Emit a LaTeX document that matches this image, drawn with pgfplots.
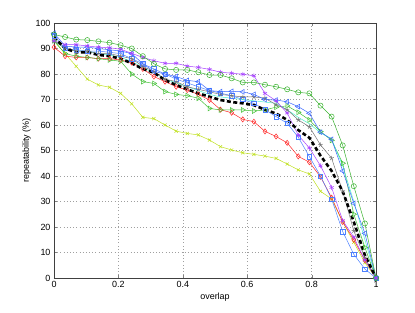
\documentclass[border=0pt]{standalone}
\usepackage{pgfplots}
\usepackage{pgfplotstable}
\pgfplotsset{compat=1.18}
\usepackage{fontspec}
\setmainfont{Liberation Sans}
\definecolor{cgo}{rgb}{0.22,0.70,0.18}
\definecolor{cgt}{rgb}{0.25,0.75,0.20}
\definecolor{cpu}{rgb}{0.65,0.25,1.00}
\definecolor{cbl}{rgb}{0.22,0.40,1.00}
\definecolor{cbs}{rgb}{0.30,0.50,1.00}
\definecolor{crd}{rgb}{1.00,0.15,0.15}
\definecolor{cyl}{rgb}{0.75,0.88,0.12}
\definecolor{cgy}{rgb}{0.45,0.45,0.45}
\definecolor{ccy}{rgb}{0.30,0.95,0.80}
\pgfplotstableread{
x      go    pu    bl    bs    gt    rd    yl    gy    cy    mn
0      95.5  93.0  96.0  95.0  93.0  90.5  93.0  93.0  93.0  94.5
0.0345 94.5  91.5  91.0  90.0  88.0  87.0  88.0  90.0  90.0  90.0
0.0690 93.5  91.5  90.5  89.5  87.0  86.5  83.0  89.0  89.0  88.5
0.1034 93.3  91.0  90.5  89.0  86.5  86.5  78.0  89.0  89.0  88.5
0.1379 92.8  90.5  90.0  89.0  86.0  86.0  75.7  88.0  88.0  87.5
0.1724 92.3  90.3  89.5  88.5  85.5  86.0  74.8  88.0  87.5  87.0
0.2069 91.3  89.7  89.0  88.0  85.0  85.5  72.4  87.0  86.5  86.0
0.2414 90.0  88.1  88.0  86.0  80.0  84.5  68.3  86.0  85.0  84.2
0.2759 87.0  86.5  84.0  84.0  77.0  82.0  63.0  83.0  82.5  82.0
0.3103 84.0  85.2  81.0  82.0  76.3  79.0  62.5  81.0  80.5  80.5
0.3448 82.0  84.2  80.0  80.0  73.1  77.0  60.0  78.0  78.0  77.6
0.3793 81.6  84.2  79.0  78.0  72.0  75.0  57.6  77.0  76.5  75.7
0.4138 81.6  83.1  77.5  76.5  71.5  73.7  56.7  75.0  75.0  74.0
0.4483 80.7  82.6  77.0  75.0  70.5  72.0  56.1  74.0  73.5  72.4
0.4828 79.6  81.8  73.5  73.5  66.5  69.8  54.1  73.0  72.0  71.1
0.5172 79.6  80.7  73.1  72.5  65.9  66.0  51.5  72.0  71.0  69.8
0.5517 78.3  80.3  73.2  71.5  65.9  64.8  50.2  71.5  70.5  69.0
0.5862 76.7  79.9  73.0  70.0  65.9  62.2  49.1  71.0  70.0  68.5
0.6207 76.7  79.3  72.0  68.5  65.5  61.3  48.5  71.0  69.5  67.8
0.6552 75.8  72.4  70.0  66.0  65.9  57.5  47.8  70.5  69.0  66.0
0.6897 75.0  69.5  69.8  63.3  67.0  55.5  46.9  68.0  68.5  64.5
0.7241 74.0  64.7  69.1  60.7  67.5  53.0  44.7  66.0  66.0  62.0
0.7586 72.8  56.0  67.2  55.2  65.0  47.7  42.4  62.0  63.0  58.0
0.7931 72.4  51.0  64.6  47.6  62.0  45.4  40.8  59.3  60.5  55.0
0.8276 67.6  44.0  57.2  40.0  57.4  39.7  34.0  52.2  57.0  48.0
0.8621 63.3  35.5  54.4  31.0  54.0  31.5  31.0  47.0  54.5  42.0
0.8966 52.0  22.5  42.0  18.2  45.0  22.0  22.0  34.0  44.0  34.0
0.9310 36.0  16.0  29.3  9.3   25.0  15.0  14.0  18.5  30.0  22.0
0.9655 21.4  7.0   17.5  3.5   12.0  7.0   6.0   8.0   15.0  9.0
1      0.0   0.0   0.0   0.0   0.0   0.0   0.0   0.0   0.0   0.0
}\data
\begin{document}
\begin{tikzpicture}
\path[use as bounding box] (-54bp,-35bp) rectangle (361bp,278bp);
\begin{axis}[
  at={(0,0)}, anchor=south west,
  scale only axis, width=322bp, height=255bp,
  xmin=0, xmax=1, ymin=0, ymax=100,
  xtick={0,0.2,0.4,0.6,0.8,1},
  ytick={0,10,...,100},
  xticklabels={0,0.2,0.4,0.6,0.8,1},
  tick align=inside,
  major tick length=3bp,
  grid=major,
  grid style={line width=0.6pt, gray!75, dash pattern=on 0.6pt off 2.6pt},
  axis line style={line width=0.7pt, black!75},
  font=\fontsize{9}{10}\selectfont,
  /pgf/number format/assume math mode=true,
  xlabel={overlap},
  ylabel={repeatability (\%)},
  xlabel style={yshift=2bp},
  ylabel style={yshift=-2bp},
  every axis plot/.append style={line width=0.5pt},
  mark options={solid},
]
\addplot[color=cyl, mark=x, mark size=2.2pt] table[x=x,y=yl]{\data};
\addplot[color=crd, mark=diamond, mark size=2.6pt] table[x=x,y=rd]{\data};
\addplot[color=cgt, mark=triangle, mark size=2.8pt, mark options={rotate=-90}] table[x=x,y=gt]{\data};
\addplot[color=cbs, mark=square, mark size=2.2pt] table[x=x,y=bs]{\data};
\addplot[color=ccy] table[x=x,y=cy]{\data};
\addplot[color=cgy, mark=star, mark size=2.4pt] table[x=x,y=gy]{\data};
\addplot[color=cbl, mark=triangle, mark size=2.8pt, mark options={rotate=90}] table[x=x,y=bl]{\data};
\addplot[color=cpu, mark=asterisk, mark size=2.4pt] table[x=x,y=pu]{\data};
\addplot[color=cgo, mark=o, mark size=2.6pt] table[x=x,y=go]{\data};
\addplot[color=black, line width=2.6pt, dash pattern=on 4pt off 2.5pt] table[x=x,y=mn]{\data};
\end{axis}
\end{tikzpicture}
\end{document}
